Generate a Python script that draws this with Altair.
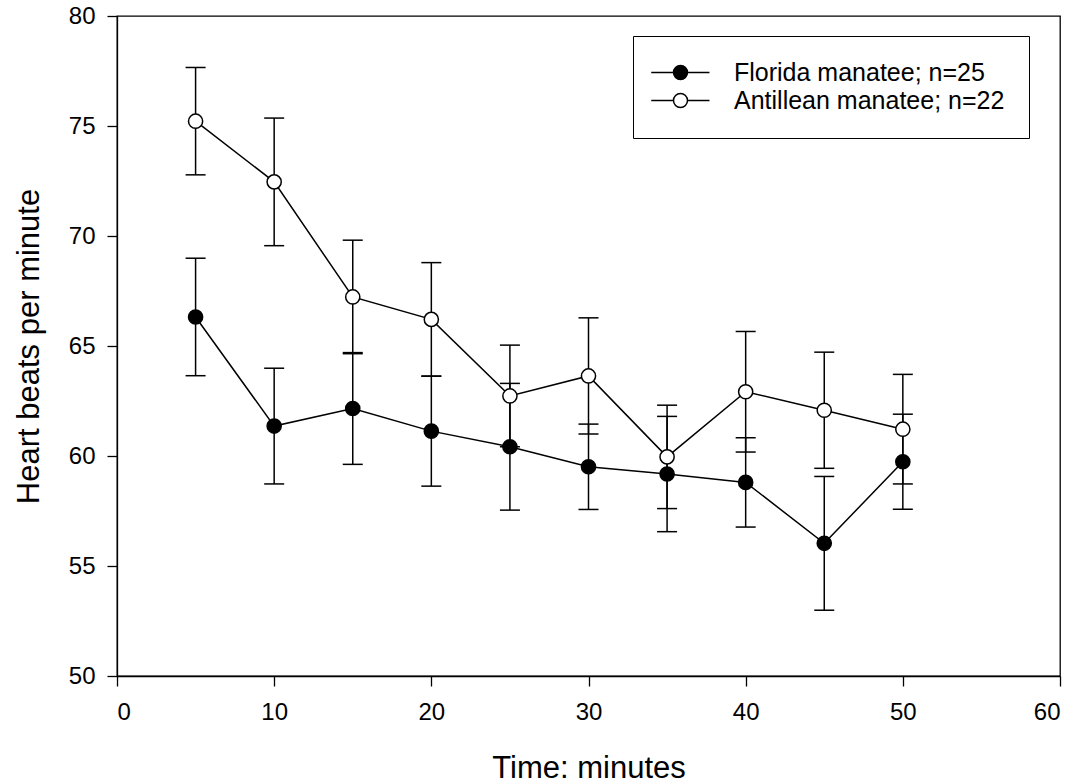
import altair as alt
import pandas as pd

# ---- data ----
times = [5, 10, 15, 20, 25, 30, 35, 40, 45, 50]
florida_mean = [66.32, 61.36, 62.16, 61.13, 60.42, 59.51, 59.18, 58.80, 56.03, 59.74]
florida_se = [2.67, 2.63, 2.54, 2.50, 2.88, 1.94, 2.62, 2.03, 3.04, 2.16]
antillean_mean = [75.22, 72.46, 67.23, 66.21, 62.73, 63.64, 59.96, 62.92, 62.08, 61.22]
antillean_se = [2.44, 2.90, 2.58, 2.58, 2.31, 2.64, 2.35, 2.74, 2.64, 2.49]
series_names = ["Florida manatee; n=25", "Antillean manatee; n=22"]
series_fills = ["black", "white"]
x_ticks = [0, 10, 20, 30, 40, 50, 60]
y_ticks = [50, 55, 60, 65, 70, 75, 80]

rows = []
for name, means, ses in [(series_names[0], florida_mean, florida_se),
                         (series_names[1], antillean_mean, antillean_se)]:
    for t, m, s in zip(times, means, ses):
        rows.append({"time": t, "hr": m, "lo": m - s, "hi": m + s, "series": name})
df = pd.DataFrame(rows)

FONT = "Liberation Sans"

x_enc = alt.X("time:Q", scale=alt.Scale(domain=[0, 60], nice=False),
              axis=alt.Axis(values=x_ticks, title="Time: minutes", labelPadding=14,
                            titleY=92, titleBaseline="middle"))
y_enc = alt.Y("hr:Q", scale=alt.Scale(domain=[50, 80], nice=False, zero=False),
              axis=alt.Axis(values=y_ticks, title="Heart beats per minute", labelPadding=12,
                            titleX=-88, titleBaseline="middle"))

base = alt.Chart(df)

rules = base.mark_rule(color="black", strokeWidth=1.5).encode(
    x=x_enc, y=alt.Y("lo:Q"), y2="hi:Q", detail="series:N")
cap_lo = base.mark_tick(color="black", orient="horizontal", size=20, thickness=1.5,
                        opacity=1).encode(x="time:Q", y="lo:Q")
cap_hi = base.mark_tick(color="black", orient="horizontal", size=20, thickness=1.5,
                        opacity=1).encode(x="time:Q", y="hi:Q")
lines = base.mark_line(color="black", strokeWidth=1.5).encode(
    x="time:Q", y=y_enc, detail="series:N")

legend_path = "M-2.61,0H0.57M2.57,0H5.71M0.57,0A1,1 0 1,1 2.57,0A1,1 0 1,1 0.57,0Z"

points = base.mark_point(shape="circle", filled=True, stroke="black", strokeWidth=1.5,
                         size=200, opacity=1).encode(
    x="time:Q", y="hr:Q",
    fill=alt.Fill("series:N",
                  scale=alt.Scale(domain=series_names, range=series_fills),
                  legend=alt.Legend(title=None, orient="none", legendX=516, legendY=20,
                                    fillColor="white", strokeColor="black", padding=24,
                                    symbolType=legend_path, symbolSize=196,
                                    symbolStrokeWidth=1.5, symbolStrokeColor="black",
                                    symbolOpacity=1, labelFont=FONT, labelFontSize=25,
                                    labelColor="black", labelOffset=52, rowPadding=2,
                                    labelLimit=500)),
)

chart = alt.layer(rules, cap_lo, cap_hi, lines, points).properties(
    width=943, height=660,
    background="white",
    autosize=alt.AutoSizeParams(type="none"),
    padding={"left": 117, "top": 16, "right": 19, "bottom": 108},
).configure_view(stroke="black", strokeWidth=1.3).configure_axis(
    grid=False, domainColor="black", domainWidth=1.3, tickColor="black", tickWidth=1.3,
    tickSize=10, labelFont=FONT, labelFontSize=24, labelColor="black",
    titleFont=FONT, titleFontSize=31, titleFontWeight="normal", titleColor="black",
)

chart.save("out.html", embed_options={"renderer": "svg", "actions": False})
